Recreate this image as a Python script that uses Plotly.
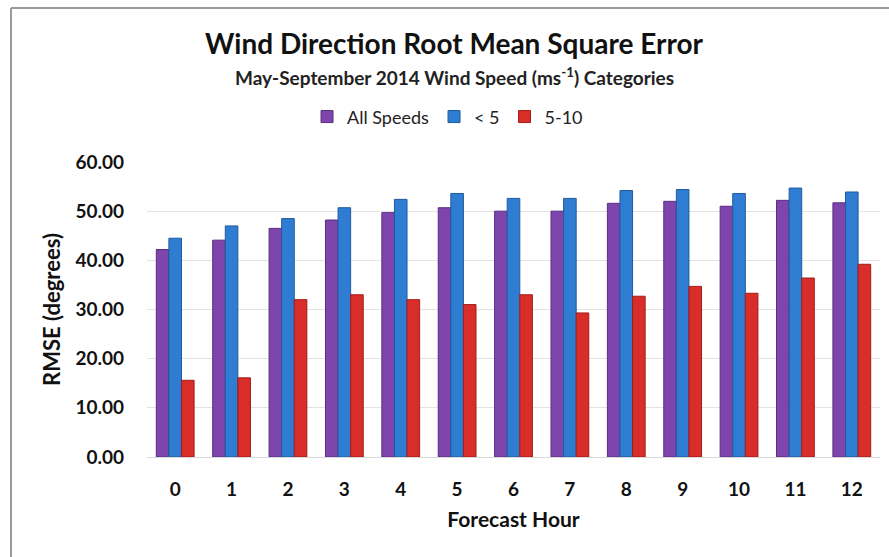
import plotly.graph_objects as go

hours = ["0", "1", "2", "3", "4", "5", "6", "7", "8", "9", "10", "11", "12"]
all_speeds = [42.2, 44.1, 46.5, 48.2, 49.7, 50.7, 50.0, 50.0, 51.6, 52.0, 51.0, 52.2, 51.7]
lt5 = [44.5, 47.0, 48.5, 50.7, 52.4, 53.6, 52.6, 52.6, 54.2, 54.4, 53.6, 54.7, 53.9]
s5_10 = [15.6, 16.1, 32.0, 33.0, 32.0, 31.0, 33.0, 29.3, 32.7, 34.7, 33.3, 36.4, 39.2]
series_names = ["All Speeds", "< 5", "5-10"]
y_ticks = [0, 10, 20, 30, 40, 50, 60]
y_tick_labels = ["0.00", "10.00", "20.00", "30.00", "40.00", "50.00", "60.00"]

colors = ["#7E46AC", "#2F7DD3", "#D92D2A"]
edges = ["#5A2E80", "#1F5A9E", "#A31C1A"]

FONT = "Lato"

fig = go.Figure()
for name, vals, c, e in zip(series_names, [all_speeds, lt5, s5_10], colors, edges):
    fig.add_trace(go.Bar(x=hours, y=vals, name=name,
                         marker=dict(color=c, line=dict(color=e, width=1))))

fig.update_layout(
    width=889, height=557,
    margin=dict(l=147, r=9, t=162, b=100, autoexpand=False),
    paper_bgcolor="white", plot_bgcolor="white",
    barmode="group", bargap=0.33, bargroupgap=0,
    font=dict(family=FONT, color="#111111"),
    showlegend=True,
    legend=dict(orientation="h", x=0.41, xanchor="center", y=1.153, yanchor="middle",
                font=dict(size=18, family=FONT, color="#222222"),
                itemwidth=30, tracegroupgap=0, bgcolor="rgba(0,0,0,0)"),
    xaxis=dict(type="category", showgrid=False, showline=True, linecolor="#D9D9D9",
               linewidth=1, ticks="", ticklabelstandoff=15,
               tickfont=dict(size=19, family=FONT, color="#111111", weight="bold"),
               title=dict(text="Forecast Hour", standoff=13,
                          font=dict(size=21, family=FONT, color="#111111", weight="bold"))),
    yaxis=dict(range=[0, 60], tickvals=y_ticks, ticktext=y_tick_labels,
               showgrid=True, gridcolor="#E3E3E3", gridwidth=1, zeroline=False,
               showline=False, ticks="", ticklabelstandoff=22,
               tickfont=dict(size=19, family=FONT, color="#111111", weight="bold"),
               title=dict(text="RMSE (degrees)", standoff=8,
                          font=dict(size=22, family=FONT, color="#111111", weight="bold"))),
    annotations=[
        dict(text="<b>Wind Direction Root Mean Square Error</b>", xref="paper", yref="paper",
             x=0.42, y=1.403, xanchor="center", yanchor="middle", showarrow=False,
             font=dict(size=28, family=FONT, color="#111111")),
        dict(text="<b>May-September 2014 Wind Speed (ms<sup>-1</sup>) Categories</b>",
             xref="paper", yref="paper", x=0.42, y=1.29, xanchor="center", yanchor="middle",
             showarrow=False, font=dict(size=19, family=FONT, color="#222222")),
    ],
    shapes=[
        dict(type="line", xref="paper", yref="paper", x0=-0.1855, x1=-0.1855, y0=-0.4, y1=1.522,
             line=dict(color="#9A9A9A", width=2)),
        dict(type="line", xref="paper", yref="paper", x0=-0.1855, x1=1.05, y0=1.522, y1=1.522,
             line=dict(color="#9A9A9A", width=2)),
    ],
)

fig.write_html("out.html", config={"displayModeBar": False},
               post_script="document.body.style.margin='0';")
